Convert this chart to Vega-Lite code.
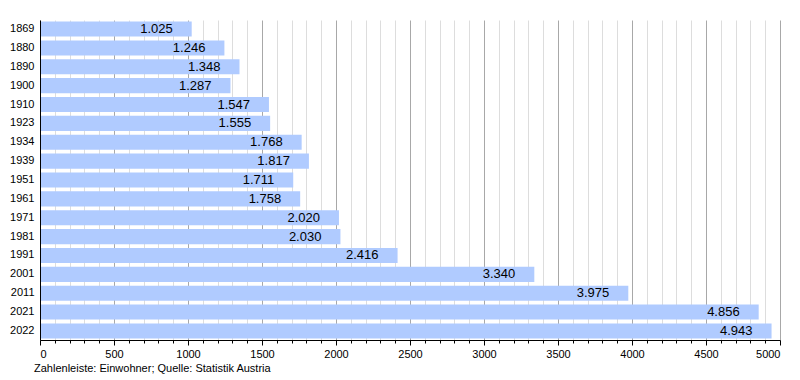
{
  "$schema": "https://vega.github.io/schema/vega-lite/v6.json",
  "autosize": "none",
  "width": 740,
  "height": 320,
  "padding": {"left": 40, "top": 20, "right": 20, "bottom": 40},
  "background": "white",
  "config": {
    "view": {"stroke": null},
    "font": "Liberation Sans",
    "locale": {"number": {"decimal": ",", "thousands": ".", "grouping": [3], "currency": ["", " €"]}}
  },
  "title": {
    "text": "Zahlenleiste: Einwohner; Quelle: Statistik Austria",
    "orient": "bottom",
    "anchor": "start",
    "frame": "group",
    "offset": 4,
    "dx": -6,
    "fontSize": 11,
    "fontWeight": "normal",
    "color": "black",
    "font": "Liberation Sans"
  },
  "data": {
    "values": [
      {"jahr": "1869", "einwohner": 1025},
      {"jahr": "1880", "einwohner": 1246},
      {"jahr": "1890", "einwohner": 1348},
      {"jahr": "1900", "einwohner": 1287},
      {"jahr": "1910", "einwohner": 1547},
      {"jahr": "1923", "einwohner": 1555},
      {"jahr": "1934", "einwohner": 1768},
      {"jahr": "1939", "einwohner": 1817},
      {"jahr": "1951", "einwohner": 1711},
      {"jahr": "1961", "einwohner": 1758},
      {"jahr": "1971", "einwohner": 2020},
      {"jahr": "1981", "einwohner": 2030},
      {"jahr": "1991", "einwohner": 2416},
      {"jahr": "2001", "einwohner": 3340},
      {"jahr": "2011", "einwohner": 3975},
      {"jahr": "2021", "einwohner": 4856},
      {"jahr": "2022", "einwohner": 4943}
    ]
  },
  "encoding": {
    "y": {
      "field": "jahr",
      "type": "ordinal",
      "sort": null,
      "scale": {"paddingInner": 0.2, "paddingOuter": 0.08},
      "axis": {
        "title": null,
        "domainColor": "black",
        "ticks": false,
        "labelFontSize": 11,
        "labelColor": "black",
        "labelPadding": 6,
        "zindex": 1
      }
    },
    "x": {
      "field": "einwohner",
      "type": "quantitative",
      "scale": {"domain": [0, 5000], "nice": false},
      "axis": {
        "orient": "bottom",
        "title": null,
        "values": [0,100,200,300,400,500,600,700,800,900,1000,1100,1200,1300,1400,1500,1600,1700,1800,1900,2000,2100,2200,2300,2400,2500,2600,2700,2800,2900,3000,3100,3200,3300,3400,3500,3600,3700,3800,3900,4000,4100,4200,4300,4400,4500,4600,4700,4800,4900,5000],
        "labelExpr": "datum.value % 500 === 0 ? datum.value : ''",
        "grid": true,
        "gridColor": {"condition": {"test": "datum.value % 500 === 0", "value": "#a8a8a8"}, "value": "#dddddd"},
        "gridWidth": 1,
        "ticks": true,
        "tickSize": {"condition": {"test": "datum.value % 500 === 0", "value": 5}, "value": 3},
        "tickColor": "black",
        "domain": true,
        "domainColor": "black",
        "labelFontSize": 11,
        "labelColor": "black",
        "labelPadding": 3,
        "labelOverlap": false,
        "zindex": 0
      }
    }
  },
  "layer": [
    {
      "mark": {"type": "bar", "color": "#b0cbff"}
    },
    {
      "mark": {"type": "text", "align": "right", "baseline": "middle", "dx": -19, "fontSize": 13, "color": "black"},
      "encoding": {
        "text": {"field": "einwohner", "type": "quantitative", "format": ",d"}
      }
    }
  ]
}
